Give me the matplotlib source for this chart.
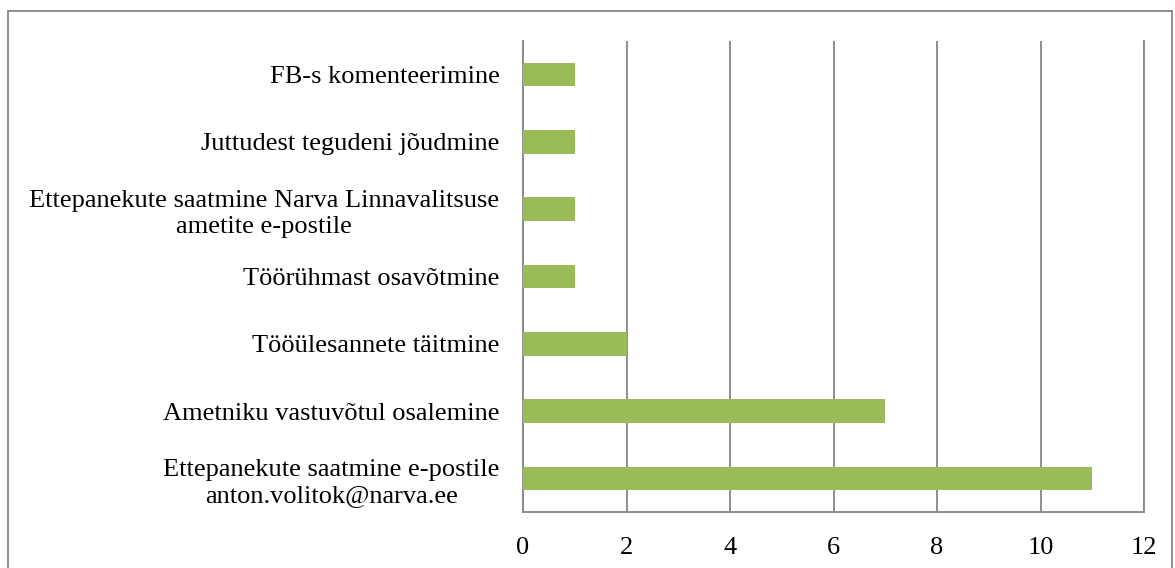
import matplotlib.pyplot as plt
from matplotlib.patches import Rectangle

categories = [
    "Ettepanekute saatmine e-postile\nanton.volitok@narva.ee",
    "Ametniku vastuvõtul osalemine",
    "Tööülesannete täitmine",
    "Töörühmast osavõtmine",
    "Ettepanekute saatmine Narva Linnavalitsuse\nametite e-postile",
    "Juttudest tegudeni jõudmine",
    "FB-s komenteerimine",
]
values = [11, 7, 2, 1, 1, 1, 1]
xticks = [0, 2, 4, 6, 8, 10, 12]

plt.rcParams['font.family'] = ['Liberation Serif', 'DejaVu Serif']

fig = plt.figure(figsize=(11.75, 5.68), dpi=100)
ax = fig.add_axes([523 / 1175, 1 - 512 / 568, (1144 - 523) / 1175, (512 - 41) / 568])

ypos = list(range(len(categories)))
ax.barh(ypos, values, height=0.35, color='#9BBB59', zorder=3)

ax.set_xlim(0, 12)
ax.set_ylim(-0.5, 6.5)
ax.set_xticks(xticks)
ax.set_xticklabels([str(t) for t in xticks], fontsize=19)
ax.set_yticks(ypos)
ax.set_yticklabels(categories, fontsize=19, linespacing=1.23, multialignment='center')
ax.tick_params(axis='y', length=0, pad=17)
ax.tick_params(axis='x', length=0, pad=18)

ax.grid(axis='x', color='#868686', linewidth=1.3, zorder=0)
ax.spines['top'].set_visible(False)
for side in ['left', 'bottom', 'right']:
    ax.spines[side].set_color('#868686')
    ax.spines[side].set_linewidth(1.3)

fig.patches.append(Rectangle((8 / 1175, -0.02), (1172 - 8) / 1175, 1 - 11 / 568 + 0.02,
                             transform=fig.transFigure, fill=False,
                             edgecolor='#868686', linewidth=1.3))

fig.savefig('out.png', dpi=100)
